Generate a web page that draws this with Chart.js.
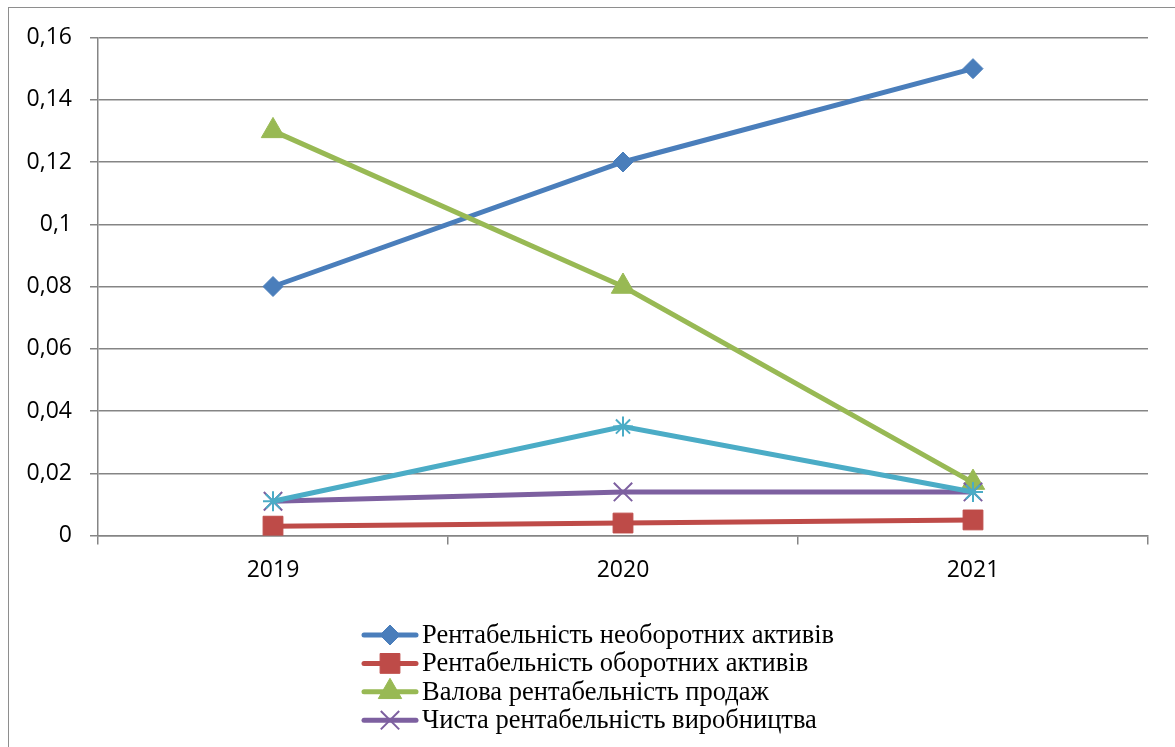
<!DOCTYPE html>
<html>
<head>
<meta charset="utf-8">
<script src="https://cdn.jsdelivr.net/npm/chart.js@4.4.1/dist/chart.umd.min.js"></script>
<style>
  html, body { margin: 0; padding: 0; background: #fff; }
  #wrap { position: relative; width: 1175px; height: 747px; overflow: hidden; }
  #frame { position: absolute; left: 8px; top: 7px; width: 1300px; height: 900px;
           border: 1.5px solid #8e8e8e; box-sizing: border-box; }
  #chart { position: absolute; left: 0; top: 0; }
</style>
</head>
<body>
<div id="wrap">
  <div id="frame"></div>
  <canvas id="chart" width="1175" height="747"></canvas>
</div>
<script>
  // categories and series
  const years = ['2019', '2020', '2021'];
  const fixedAssetsReturn = [0.08, 0.12, 0.15];
  const currentAssetsReturn = [0.003, 0.004, 0.005];
  const grossSalesMargin = [0.13, 0.08, 0.017];
  const netProductionReturn = [0.011, 0.014, 0.014];
  const fifthSeries = [0.011, 0.035, 0.014]; // its legend row is cut off in the picture
  const yTickLabels = ['0', '0,02', '0,04', '0,06', '0,08', '0,1', '0,12', '0,14', '0,16'];

  const seriesNames = [
    'Рентабельність необоротних активів',
    'Рентабельність оборотних активів',
    'Валова рентабельність продаж',
    'Чиста рентабельність виробництва',
    'Чиста рентабельність продаж'
  ];

  const gridColor = '#858585';
  const tickFont = { family: '"Open Sans", "Liberation Sans", sans-serif', size: 23 };

  function series(name, data, color, style, radius, order, inLegend) {
    const filled = style !== 'crossRot' && style !== 'star';
    return {
      label: name,
      data: data,
      borderColor: color,
      backgroundColor: color,
      borderWidth: 5,
      pointStyle: style,
      pointRadius: radius,
      pointBackgroundColor: color,
      pointBorderColor: color,
      pointBorderWidth: filled ? 1 : 2,
      tension: 0,
      order: order,
      inLegend: inLegend
    };
  }

  // legend drawn as rows (line + marker), like the office-style legend
  const rowLegend = {
    id: 'rowLegend',
    afterDraw(chart) {
      const ctx = chart.ctx;
      const items = chart.data.datasets.filter(ds => ds.inLegend);
      ctx.save();
      items.forEach((ds, i) => {
        const y = 635 + i * 28.4;
        ctx.strokeStyle = ds.borderColor;
        ctx.lineWidth = 5;
        ctx.lineCap = 'round';
        ctx.beginPath();
        ctx.moveTo(364, y);
        ctx.lineTo(416, y);
        ctx.stroke();
        ctx.lineCap = 'butt';
        ctx.fillStyle = ds.pointBackgroundColor;
        ctx.lineWidth = ds.pointBorderWidth;
        Chart.helpers.drawPoint(ctx, {
          pointStyle: ds.pointStyle,
          radius: ds.pointRadius,
          rotation: 0,
          borderWidth: ds.pointBorderWidth
        }, 390, y);
        ctx.fillStyle = '#000';
        ctx.font = '26.5px "Liberation Serif", "Times New Roman", serif';
        ctx.textBaseline = 'middle';
        ctx.textAlign = 'left';
        ctx.fillText(ds.label, 422, y + 1);
      });
      ctx.restore();
    }
  };

  new Chart(document.getElementById('chart'), {
    type: 'line',
    data: {
      labels: years,
      datasets: [
        series(seriesNames[0], fixedAssetsReturn, '#4a7ebb', 'rectRot', 10, 5, true),
        series(seriesNames[1], currentAssetsReturn, '#be4b48', 'rect', 14, 4, true),
        series(seriesNames[2], grossSalesMargin, '#98b954', 'triangle', 13.5, 3, true),
        series(seriesNames[3], netProductionReturn, '#7d60a0', 'crossRot', 13, 2, true),
        series(seriesNames[4], fifthSeries, '#4bacc6', 'star', 10, 1, false)
      ]
    },
    options: {
      responsive: false,
      animation: false,
      layout: { padding: { left: 0, right: 27, top: 37.5, bottom: 0 } },
      plugins: {
        legend: { display: false },
        tooltip: { enabled: false }
      },
      scales: {
        x: {
          offset: true,
          grid: {
            offset: true,
            drawOnChartArea: false,
            drawTicks: true,
            tickLength: 9,
            color: gridColor,
            lineWidth: 1.5
          },
          border: { color: gridColor, width: 1.5 },
          ticks: { padding: 12, color: '#000', font: tickFont },
          afterFit: scale => { scale.height = 211.5; }
        },
        y: {
          min: 0,
          max: 0.16,
          grid: { color: gridColor, lineWidth: 1.5, tickLength: 8 },
          border: { color: gridColor, width: 1.5 },
          ticks: {
            stepSize: 0.02,
            padding: 18,
            color: '#000',
            font: tickFont,
            callback: (value, index) => yTickLabels[index]
          },
          afterFit: scale => { scale.width = 98; }
        }
      }
    },
    plugins: [rowLegend]
  });
</script>
</body>
</html>
